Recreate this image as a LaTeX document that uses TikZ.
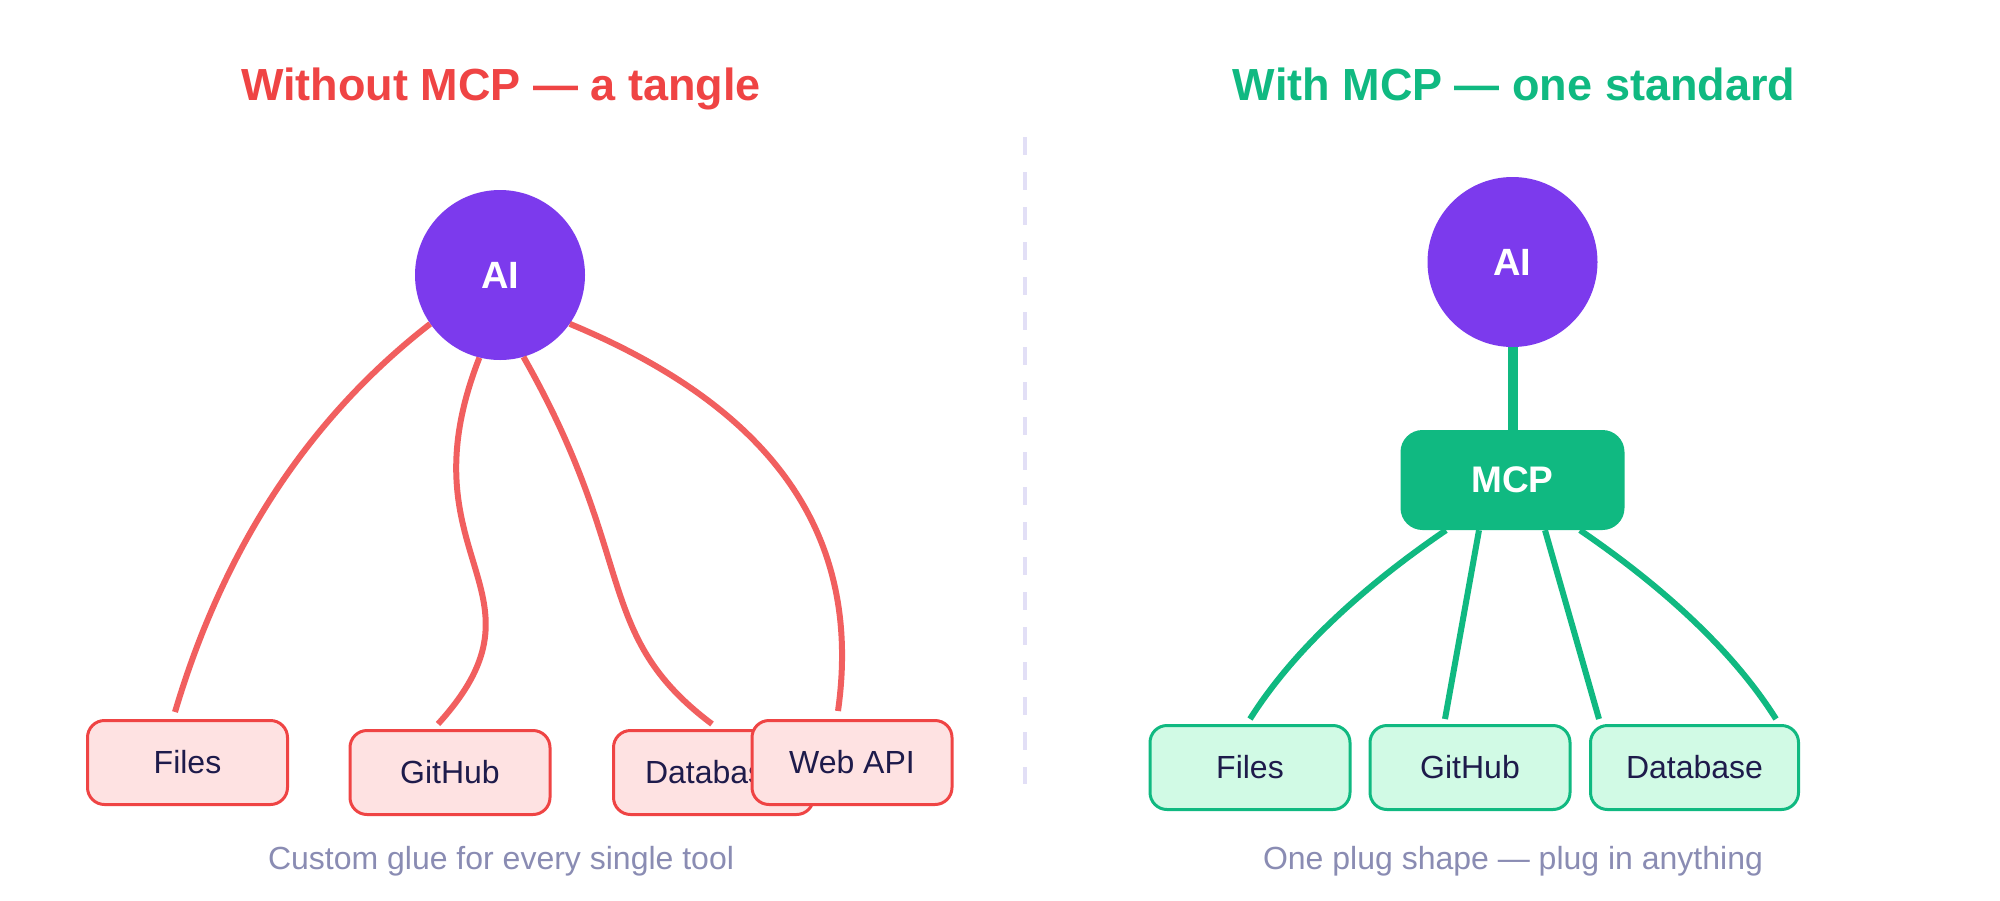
\documentclass[tikz,border=0pt]{standalone}
\usepackage{fontspec}
\setmainfont{Liberation Sans}
\usetikzlibrary{calc}
\definecolor{redc}{HTML}{EF4444}
\definecolor{redfill}{HTML}{FEE2E2}
\definecolor{greenc}{HTML}{10B981}
\definecolor{greenfill}{HTML}{D1FAE5}
\definecolor{aiviolet}{HTML}{7C3AED}
\definecolor{navytext}{HTML}{1E1B4B}
\definecolor{capgray}{HTML}{8A8CB3}
\definecolor{dashc}{HTML}{E2DFF6}
\begin{document}
\begin{tikzpicture}[x=1pt,y=-1pt,
  aicircle/.style={circle, fill=aiviolet, minimum size=170pt, inner sep=0pt, text=white,
    font=\fontsize{38pt}{44pt}\selectfont\bfseries},
  redbox/.style={rectangle, rounded corners=17pt, draw=redc, line width=3pt, fill=redfill,
    minimum width=200pt, minimum height=84pt, inner sep=0pt, text=navytext,
    font=\fontsize{32pt}{38pt}\selectfont},
  greenbox/.style={redbox, draw=greenc, fill=greenfill},
  mcpbox/.style={rectangle, rounded corners=22pt, fill=greenc, minimum width=224pt,
    minimum height=100pt, inner sep=0pt, text=white, font=\fontsize{37pt}{44pt}\selectfont\bfseries},
  redwire/.style={draw=redc, draw opacity=0.85, line width=6pt},
  greenwire/.style={draw=greenc, line width=6pt},
  titletext/.style={anchor=base, font=\fontsize{45pt}{54pt}\selectfont\bfseries},
  captiontext/.style={anchor=base, text=capgray, font=\fontsize{32pt}{38pt}\selectfont},
]
\useasboundingbox[fill=white] (0,0) rectangle (2000,900);

% titles
\node[titletext, text=redc] (ltitle) at (501,100) {Without MCP — a tangle};
\node[titletext, text=greenc] (rtitle) at (1514,100) {With MCP — one standard};

% divider
\draw[dashc, line width=4pt, dash pattern=on 18pt off 17pt] (1025,137) -- (1025,784);

% left side
\node[aicircle] (lai) at (500,275) {AI};
\node[redbox] (lfiles) at (187.5,762.5) {Files};
\node[redbox] (lgithub) at (450,772.5) {GitHub};
\node[redbox] (ldb) at (713.5,772.5) {Database};
\node[redbox] (lweb) at (852,762.5) {Web API};

\draw[redwire] (lai.215) .. controls (309,418) and (224,547) .. ([xshift=-12.5pt,yshift=7pt]lfiles.north);
\draw[redwire] (lai.256) .. controls (400,560) and (560,590) .. ([xshift=-12pt,yshift=5pt]lgithub.north);
\draw[redwire] (lai.286) .. controls (639,560) and (592,634) .. ([xshift=-1.5pt,yshift=5pt]ldb.north);
\draw[redwire] (lai.325) .. controls (780,411) and (862,541) .. ([xshift=-14pt,yshift=8pt]lweb.north);

\node[captiontext] (lcap) at (501,869) {Custom glue for every single tool};

% right side
\node[aicircle] (rai) at (1512.5,262) {AI};
\node[mcpbox] (mcp) at (1512.5,480) {MCP};
\node[greenbox] (rfiles) at (1250,767.5) {Files};
\node[greenbox] (rgithub) at (1470,767.5) {GitHub};
\node[greenbox, minimum width=208pt] (rdb) at (1694.5,767.5) {Database};

\draw[greenwire, line width=10pt] (rai.south) -- (mcp.north);
\draw[greenwire] ([xshift=-66.5pt]mcp.south) .. controls (1354,593) and (1289,657) .. ([yshift=5pt]rfiles.north);
\draw[greenwire] ([xshift=-33.5pt]mcp.south) -- ([xshift=-25pt,yshift=5pt]rgithub.north);
\draw[greenwire] ([xshift=32.5pt]mcp.south) -- ([xshift=-95.5pt,yshift=5pt]rdb.north);
\draw[greenwire] ([xshift=67.5pt]mcp.south) .. controls (1672,593) and (1737,657) .. ([xshift=81.5pt,yshift=5pt]rdb.north);

\node[captiontext] (rcap) at (1513,869) {One plug shape — plug in anything};
\end{tikzpicture}
\end{document}
